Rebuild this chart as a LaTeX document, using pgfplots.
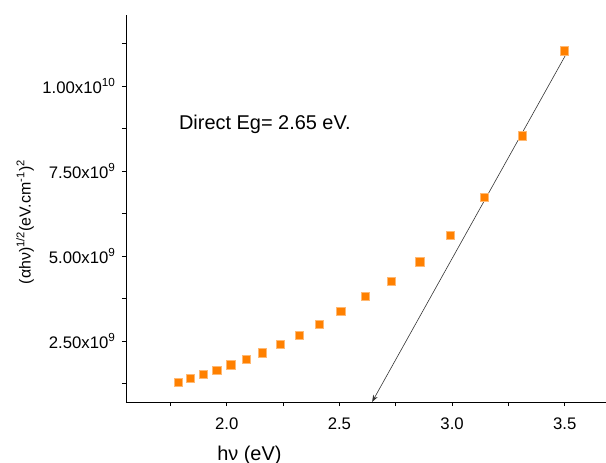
\documentclass[border=0pt]{standalone}
\usepackage{pgfplots}
\pgfplotsset{compat=1.18}
\usetikzlibrary{arrows.meta}
\usepackage{fontspec}
\setmainfont{Liberation Sans}
\definecolor{markorange}{HTML}{FF8000}

\begin{document}
\begin{tikzpicture}
\begin{axis}[
  scale only axis, width=480bp, height=387bp,
  at={(0,0)}, anchor=south west,
  axis x line=bottom, axis y line=left, axis line style={-, line width=0.8pt},
  xmin=1.553, xmax=3.683, ymin=0.706e9, ymax=1.209e10,
  xtick={2.0,2.5,3.0,3.5}, xticklabels={2.0,2.5,3.0,3.5},
  minor xtick={1.75,2.25,2.75,3.25},
  ytick={2.5e9,5e9,7.5e9,1e10},
  yticklabels={2.50x10\textsuperscript{9},5.00x10\textsuperscript{9},7.50x10\textsuperscript{9},1.00x10\textsuperscript{10}},
  minor ytick={1.25e9,3.75e9,6.25e9,8.75e9,1.125e10},
  scaled y ticks=false,
  tick align=outside, major tick length=4bp, minor tick length=4bp,
  tick style={black, line width=0.7pt},
  ticklabel style={font=\fontsize{16.8}{18}\selectfont},
  xticklabel style={yshift=-8bp},
  yticklabel style={xshift=-3bp},
  xlabel={hν (eV)},
  ylabel={(αhν)\textsuperscript{1/2}(eV.cm\textsuperscript{-1})\textsuperscript{2}},
  xlabel style={font=\fontsize{20}{22}\selectfont, at={(axis description cs:0.257,-0.137)}, anchor=center},
  ylabel style={font=\fontsize{16}{18}\selectfont, at={(axis description cs:-0.21,0.465)}, anchor=center},
]
\addplot[only marks, mark=square*, mark size=4.3bp, mark options={fill=markorange, draw=markorange!55}] coordinates {
 (1.785,1.294e9)(1.838,1.412e9)(1.895,1.529e9)(1.956,1.647e9)(2.018,1.803e9)
 (2.086,1.962e9)(2.158,2.156e9)(2.237,2.403e9)(2.321,2.676e9)(2.411,3.000e9)
 (2.507,3.382e9)(2.614,3.823e9)(2.729,4.265e9)(2.855,4.832e9)(2.992,5.617e9)
 (3.143,6.735e9)(3.312,8.538e9)(3.498,11.038e9)};
\draw[-{Stealth[length=7bp,width=5bp]}, black!80, line width=0.6pt] (axis cs:3.512,1.101e10) -- (axis cs:2.645,0.706e9);
\node[anchor=west, font=\fontsize{20}{22}\selectfont] at (axis cs:1.773,8.88e9) {Direct Eg= 2.65 eV.};
\end{axis}
\pgfresetboundingbox
\path[use as bounding box] (-126bp,-61bp) rectangle (480bp,402bp);
\end{tikzpicture}
\end{document}
